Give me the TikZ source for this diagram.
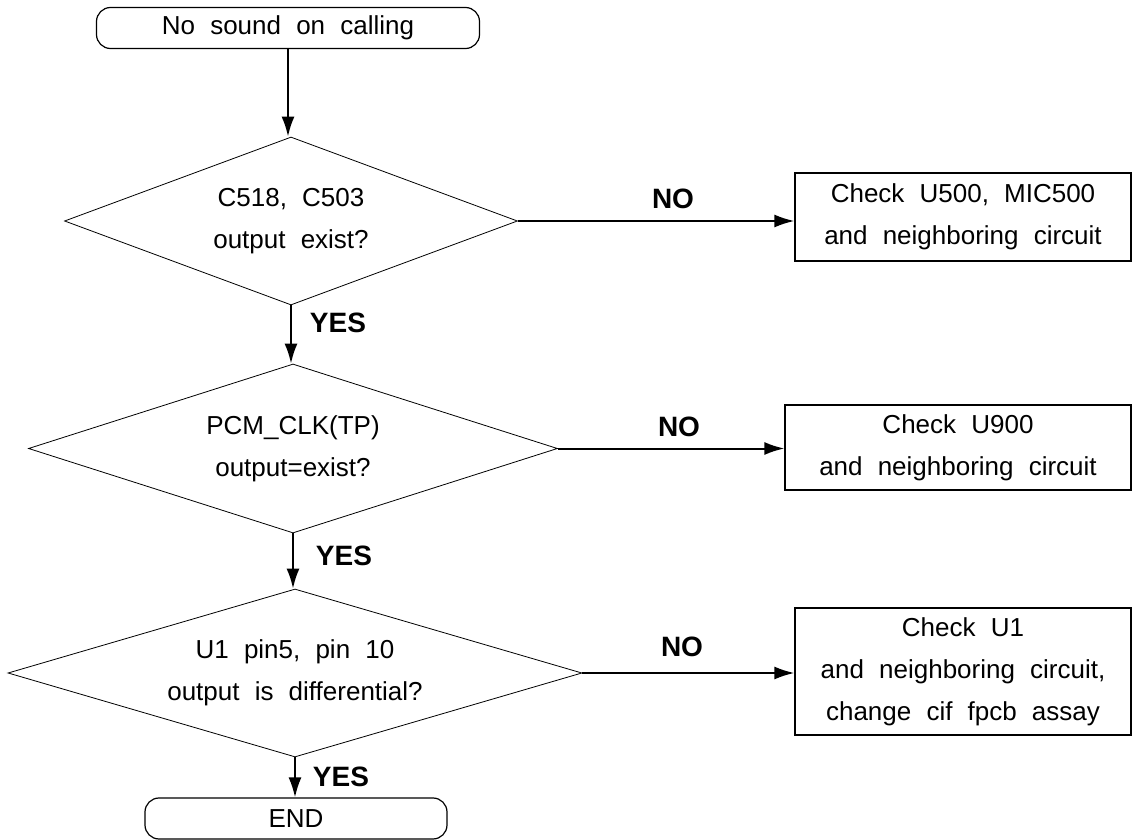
\documentclass[tikz,border=0pt]{standalone}
\usepackage{fontspec}
\setmainfont{Liberation Sans}[WordSpace=2.1]
\usetikzlibrary{calc}
\usetikzlibrary{shapes.geometric}
\usetikzlibrary{arrows.meta}

\begin{document}
\begin{tikzpicture}[x=0.5pt,y=-0.5pt,
  every node/.style={inner sep=0pt,align=center,font=\fontsize{13}{21}\selectfont},
  term/.style={draw,line width=0.6pt,rounded corners=7pt,minimum height=20.5pt},
  test/.style={draw,line width=0.4pt,diamond,aspect=3},
  chk/.style={draw,line width=0.6pt,rectangle},
  lbl/.style={font=\fontsize{14}{16}\selectfont\bfseries},
  arr/.style={line width=1pt,-{Latex[length=10pt,width=6.5pt]}}]
\useasboundingbox (0,0) rectangle (1132,840);

% main column
\node[term,minimum width=191.5pt] (start) at (288, 28) {No sound on calling};
\node[test,minimum width=226.5pt,minimum height=84pt] (d1) at (291, 221) {C518, C503\\output exist?};
\node[test,minimum width=264.5pt,minimum height=84.5pt] (d2) at (293, 448.5) {PCM\_CLK(TP)\\output=exist?};
\node[test,minimum width=287pt,minimum height=84pt] (d3) at (295, 673) {U1 pin5, pin 10\\output is differential?};
\node[term,minimum width=151pt] (stop) at (296, 818.5) {END};

% checks
\node[chk,minimum width=168pt,minimum height=44pt] (chk1) at (963, 217) {Check U500, MIC500\\and neighboring circuit};
\node[chk,minimum width=173pt,minimum height=42.5pt] (chk2) at (958, 447.5) {Check U900\\and neighboring circuit};
\node[chk,minimum width=168pt,minimum height=63.5pt] (chk3) at (963, 671.5) {Check U1\\and neighboring circuit,\\change cif fpcb assay};

% labels
\node[lbl] (yes1) at (338, 323) {YES};
\node[lbl] (yes2) at (344, 556) {YES};
\node[lbl] (yes3) at (341, 777) {YES};
\node[lbl] (no1) at (673, 199) {NO};
\node[lbl] (no2) at (679, 427) {NO};
\node[lbl] (no3) at (682, 647) {NO};

\draw[arr] (start.south) -- (start.south |- d1.north);
\draw[arr] (d1.south) -- (d1.south |- d2.north);
\draw[arr] (d2.south) -- (d2.south |- d3.north);
\draw[arr] (d3.south) -- (d3.south |- stop.north);
\draw[arr] (d1.east) -- (d1.east -| chk1.west);
\draw[arr] (d2.east) -- (d2.east -| chk2.west);
\draw[arr] (d3.east) -- (d3.east -| chk3.west);
\end{tikzpicture}
\end{document}
